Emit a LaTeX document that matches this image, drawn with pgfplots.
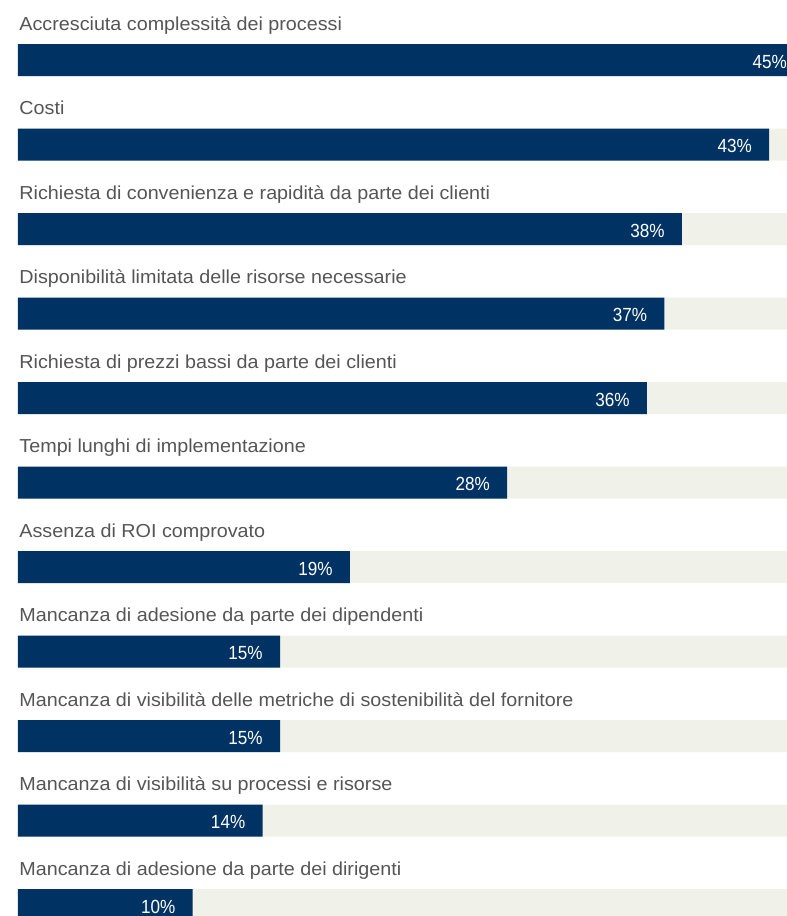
\documentclass[border=0pt]{standalone}
\usepackage{pgfplots}
\pgfplotsset{compat=1.18}
\usepackage{fontspec}
\setmainfont{Liberation Sans}
\newfontfamily\labfont[FakeStretch=1.05]{Liberation Sans}
\newfontfamily\valfont[FakeStretch=0.9]{Liberation Sans}
\definecolor{navy}{HTML}{003363}
\definecolor{track}{HTML}{F0F2EA}
\definecolor{labgrey}{HTML}{555555}
\begin{document}
\begin{tikzpicture}
\begin{axis}[
  scale only axis,
  width=393.5pt, height=458pt,
  xmin=-1.03, xmax=44.02,
  ymin=-0.710, ymax=10.130,
  y dir=reverse,
  hide axis,
  clip=true,
]
\addplot[xbar, bar width=16pt, bar shift=0pt, fill=track, draw=none] coordinates {
(100,0) (100,1) (100,2) (100,3) (100,4) (100,5) (100,6) (100,7) (100,8) (100,9) (100,10)};
\addplot[xbar, bar width=16pt, bar shift=0pt, fill=navy, draw=none] coordinates {
(45,0) (43,1) (38,2) (37,3) (36,4) (28,5) (19,6) (15,7) (15,8) (14,9) (10,10)};
\begin{scope}[every node/.style={inner sep=0pt, anchor=base west, text=labgrey, font=\labfont\fontsize{9.4pt}{11pt}\selectfont, yshift=15pt}]
\node at (axis cs:0.06,0) {Accresciuta complessità dei processi};
\node at (axis cs:0.06,1) {Costi};
\node at (axis cs:0.06,2) {Richiesta di convenienza e rapidità da parte dei clienti};
\node at (axis cs:0.06,3) {Disponibilità limitata delle risorse necessarie};
\node at (axis cs:0.06,4) {Richiesta di prezzi bassi da parte dei clienti};
\node at (axis cs:0.06,5) {Tempi lunghi di implementazione};
\node at (axis cs:0.06,6) {Assenza di ROI comprovato};
\node at (axis cs:0.06,7) {Mancanza di adesione da parte dei dipendenti};
\node at (axis cs:0.06,8) {Mancanza di visibilità delle metriche di sostenibilità del fornitore};
\node at (axis cs:0.06,9) {Mancanza di visibilità su processi e risorse};
\node at (axis cs:0.06,10) {Mancanza di adesione da parte dei dirigenti};
\end{scope}
\begin{scope}[every node/.style={inner sep=0pt, anchor=base east, text=white, font=\valfont\fontsize{9.5pt}{11pt}\selectfont, yshift=-4pt}]
\node at (axis cs:44.03,0) {45\%};
\node at (axis cs:42.03,1) {43\%};
\node at (axis cs:37.03,2) {38\%};
\node at (axis cs:36.03,3) {37\%};
\node at (axis cs:35.03,4) {36\%};
\node at (axis cs:27.03,5) {28\%};
\node at (axis cs:18.03,6) {19\%};
\node at (axis cs:14.03,7) {15\%};
\node at (axis cs:14.03,8) {15\%};
\node at (axis cs:13.03,9) {14\%};
\node at (axis cs:9.03,10) {10\%};
\end{scope}
\end{axis}
\pgfresetboundingbox
\useasboundingbox (current axis.south west) rectangle (current axis.north east);
\end{tikzpicture}
\end{document}
